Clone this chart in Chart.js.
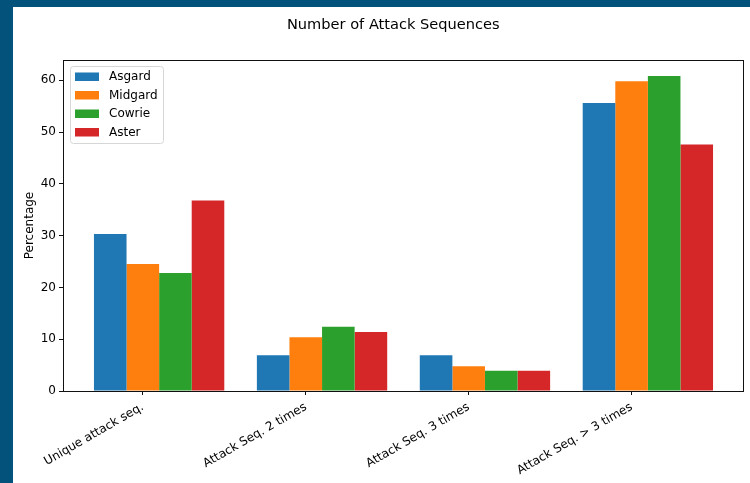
<!DOCTYPE html>
<html lang="en">
<head>
  <meta charset="UTF-8">
  <title>Number of Attack Sequences</title>
  <script src="https://cdn.jsdelivr.net/npm/chart.js"></script>
  <style>
    body { margin: 0; background: #03527c; width: 750px; height: 483px; overflow: hidden; }
    #frame { position: absolute; left: 13px; top: 7px; width: 737px; height: 476px; background: #fff; }
  </style>
</head>
<body>
  <div id="frame"><canvas id="attackChart" width="737" height="476"></canvas></div>
  <script>
    const chartTitle = 'Number of Attack Sequences';
    const categories = ['Unique attack seq.', 'Attack Seq. 2 times', 'Attack Seq. 3 times', 'Attack Seq. > 3 times'];
    const asgard  = [30.3, 6.9, 6.9, 55.6];
    const midgard = [24.5, 10.4, 4.8, 59.8];
    const cowrie  = [22.8, 12.4, 3.9, 60.8];
    const aster   = [36.8, 11.4, 3.9, 47.6];
    const yTicks = [0, 10, 20, 30, 40, 50, 60];

    const font = 'DejaVu Sans';
    // bars sit a little right of each tick, like matplotlib's x + i*width layout
    const groupShift = 0.1;
    const toPoints = vals => vals.map((v, i) => ({ x: i + groupShift, y: v }));

    const series = [
      { label: 'Asgard', data: asgard, color: '#1f77b4' },
      { label: 'Midgard', data: midgard, color: '#ff7f0e' },
      { label: 'Cowrie', data: cowrie, color: '#2ca02c' },
      { label: 'Aster', data: aster, color: '#d62728' }
    ];

    // title, axes frame and the boxed legend, drawn the matplotlib way
    const mplExtras = {
      id: 'mplExtras',
      afterDraw(chart) {
        const c = chart.ctx, a = chart.chartArea;
        c.save();
        c.fillStyle = '#000';
        c.font = '14.6px "' + font + '"';
        c.textAlign = 'center';
        c.textBaseline = 'alphabetic';
        c.fillText(chartTitle, 380.3, 21.7);

        c.strokeStyle = '#111';
        c.lineWidth = 1;
        c.strokeRect(a.left + 0.5, a.top + 0.5, a.right - a.left - 1, a.bottom - a.top);

        const x = a.left + 7, y = a.top + 6, w = 93, h = 77;
        c.beginPath();
        c.roundRect(x + 0.5, y + 0.5, w, h, 3);
        c.fillStyle = 'rgba(255,255,255,0.8)';
        c.fill();
        c.strokeStyle = '#d6d6d6';
        c.stroke();
        c.font = '12px "' + font + '"';
        c.textAlign = 'left';
        c.textBaseline = 'middle';
        chart.data.datasets.forEach((ds, i) => {
          const cy = y + 10.7 + i * 18.5;
          c.fillStyle = ds.backgroundColor;
          c.fillRect(x + 5, cy - 4.2, 24, 8.5);
          c.fillStyle = '#000';
          c.fillText(ds.label, x + 39, cy + 0.5);
        });
        c.restore();
      }
    };

    new Chart(document.getElementById('attackChart'), {
      type: 'bar',
      data: {
        datasets: series.map(s => ({
          label: s.label,
          data: toPoints(s.data),
          backgroundColor: s.color,
          borderWidth: 0
        }))
      },
      options: {
        responsive: false,
        animation: false,
        categoryPercentage: 0.8,
        barPercentage: 1.0,
        layout: { padding: { left: 0, right: 6, top: 53, bottom: 0 } },
        plugins: {
          legend: { display: false },
          tooltip: { enabled: false },
          title: { display: false }
        },
        scales: {
          x: {
            type: 'linear',
            offset: false,
            min: -0.49,
            max: 3.69,
            border: { display: false },
            grid: { offset: false, drawOnChartArea: false, drawTicks: true, tickLength: 4, color: '#111' },
            ticks: {
              stepSize: 1,
              includeBounds: false,
              autoSkip: false,
              minRotation: 30,
              maxRotation: 30,
              padding: 5,
              color: '#000',
              font: { family: font, size: 12 },
              callback: v => categories[v] ?? ''
            },
            afterFit: s => { s.height = 92; }
          },
          y: {
            min: 0,
            max: 63.9,
            border: { display: false },
            grid: { drawOnChartArea: false, drawTicks: true, tickLength: 4, color: '#111' },
            afterBuildTicks: s => { s.ticks = yTicks.map(v => ({ value: v })); },
            ticks: {
              padding: 3,
              color: '#000',
              font: { family: font, size: 12 }
            },
            title: {
              display: true,
              text: 'Percentage',
              color: '#000',
              font: { family: font, size: 12 },
              padding: { top: 10, bottom: 0 }
            },
            afterFit: s => { s.width = 50; }
          }
        }
      },
      plugins: [mplExtras]
    });
  </script>
</body>
</html>
